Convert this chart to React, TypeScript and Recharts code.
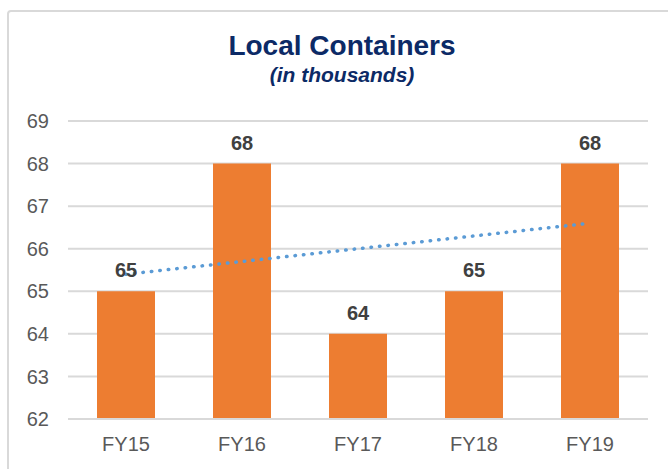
import { ComposedChart, Bar, Line, XAxis, YAxis, CartesianGrid, LabelList } from "recharts";

// Local containers per fiscal year (thousands)
const years = ["FY15", "FY16", "FY17", "FY18", "FY19"];
const containers = [65, 68, 64, 65, 68];
// linear trendline
const trend = [65.4, 65.7, 66.0, 66.3, 66.6];
const yTicks = [62, 63, 64, 65, 66, 67, 68, 69];

const FONT = '"Liberation Sans", Arial, sans-serif';

export default function App() {
    const data = years.map((y, i) => ({
        year: y,
        value: containers[i],
        trend: trend[i],
    }));

    return (
        <div style={{ position: "absolute", left: 0, top: 0, width: 668, height: 469, overflow: "hidden", background: "#fff", fontFamily: FONT }}>
            {/* chart border, only top/left visible in the crop */}
            <div style={{ position: "absolute", left: 7, top: 10, width: 720, height: 520, border: "2px solid #d9d9d9", borderRadius: 4, boxSizing: "border-box" }} />
            <div style={{ position: "absolute", left: 0, width: 684, top: 30, textAlign: "center", color: "#0C2A66", fontWeight: "bold", fontSize: 28, lineHeight: "32px" }}>
                Local Containers
            </div>
            <div style={{ position: "absolute", left: 0, width: 684, top: 63, textAlign: "center", color: "#0C2A66", fontWeight: "bold", fontStyle: "italic", fontSize: 21, lineHeight: "24px" }}>
                (in thousands)
            </div>
            <ComposedChart
                width={668}
                height={469}
                data={data}
                margin={{ top: 121, right: 20, left: 0, bottom: 20 }}
                barCategoryGap="25%"
                style={{ position: "absolute", left: 0, top: 0 }}
            >
                <CartesianGrid vertical={false} stroke="#d9d9d9" strokeWidth={2} />
                <XAxis
                    dataKey="year"
                    height={30}
                    axisLine={{ stroke: "#d9d9d9", strokeWidth: 2 }}
                    tickLine={false}
                    tickSize={0}
                    tickMargin={18}
                    tick={{ fill: "#595959", fontSize: 20, fontFamily: FONT }}
                />
                <YAxis
                    width={68}
                    domain={[62, 69]}
                    ticks={yTicks}
                    axisLine={false}
                    tickLine={false}
                    tickSize={0}
                    tickMargin={19}
                    tick={{ fill: "#595959", fontSize: 20, fontFamily: FONT }}
                />
                <Bar dataKey="value" fill="#ED7D31" isAnimationActive={false}>
                    <LabelList
                        dataKey="value"
                        position="top"
                        offset={14}
                        style={{ fill: "#404040", fontWeight: "bold", fontSize: 20, fontFamily: FONT }}
                    />
                </Bar>
                <Line
                    dataKey="trend"
                    stroke="#5B9BD5"
                    strokeWidth={3.5}
                    strokeDasharray="0.5 8"
                    strokeLinecap="round"
                    dot={false}
                    activeDot={false}
                    isAnimationActive={false}
                />
            </ComposedChart>
        </div>
    );
}
